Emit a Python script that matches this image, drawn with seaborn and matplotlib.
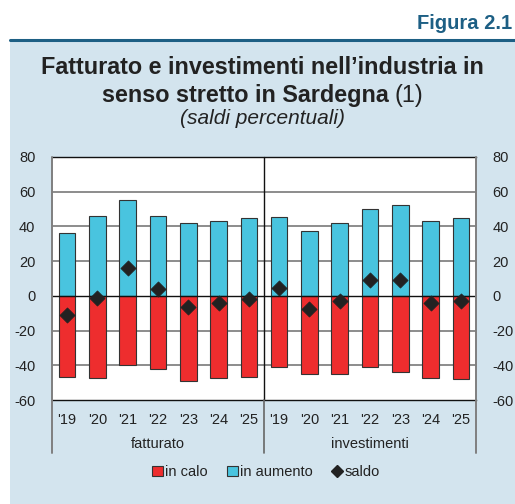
import matplotlib
matplotlib.use("Agg")
import matplotlib.pyplot as plt
import matplotlib.transforms as mtransforms
from matplotlib.patches import Rectangle
from matplotlib.lines import Line2D
import seaborn as sns
import pandas as pd

# ---- data ----
years = ["'19", "'20", "'21", "'22", "'23", "'24", "'25"]
groups = ["fatturato", "investimenti"]
fatt_aumento = [36, 46, 55, 46, 42, 43, 45]
fatt_calo = [-47, -47.5, -40, -42, -49, -47.5, -46.5]
fatt_saldo = [-11, -1.5, 16, 4, -6.7, -4.4, -1.7]
inv_aumento = [45.5, 37.5, 42, 50, 52.5, 43.2, 44.8]
inv_calo = [-41, -45, -44.8, -41, -43.6, -47.5, -48]
inv_saldo = [4.6, -7.7, -2.7, 9, 9, -4.4, -3]

sns.set_theme(style="white")
plt.rcParams["font.family"] = ["Liberation Sans", "DejaVu Sans"]
plt.rcParams["axes.unicode_minus"] = False

RED = "#ee2d2e"
BLUE = "#49c4df"
TXT = "#222222"
FS = 10.5

df = pd.DataFrame({
    "pos": list(range(14)),
    "aumento": fatt_aumento + inv_aumento,
    "calo": fatt_calo + inv_calo,
    "saldo": fatt_saldo + inv_saldo,
})

W, H = 515, 504
fig = plt.figure(figsize=(W / 100, H / 100), dpi=100)
fig.patch.set_facecolor("white")
fig.patches.append(Rectangle((10 / W, 0), 1 - 10 / W, (H - 40) / H,
                             transform=fig.transFigure, facecolor="#d3e4ee",
                             edgecolor="none", zorder=-10))
fig.lines.append(Line2D([10 / W, 1], [1 - 39.5 / H, 1 - 39.5 / H],
                        transform=fig.transFigure, color="#1d5f84", lw=2.2))

fig.text(512 / W, 1 - 29 / H, "Figura 2.1", ha="right", va="baseline",
         fontsize=14.5, fontweight="bold", color="#1d5f84")
fig.text(262.5 / W, 1 - 74 / H, "Fatturato e investimenti nell\u2019industria in",
         ha="center", va="baseline", fontsize=16.8, fontweight="bold", color=TXT)

# line 2: bold part + regular "(1)", centred together
y2 = 1 - 102 / H
tb = fig.text(0, y2, "senso stretto in Sardegna ", ha="left", va="baseline",
              fontsize=16.8, fontweight="bold", color=TXT)
t_reg = fig.text(0, y2, "(1)", ha="left", va="baseline", fontsize=16.8, color=TXT)
fig.canvas.draw()
bold_w = tb.get_window_extent().width
reg_w = t_reg.get_window_extent().width
x0 = 262.5 - (bold_w + reg_w) / 2
tb.set_x(x0 / W)
t_reg.set_x((x0 + bold_w) / W)

fig.text(262.5 / W, 1 - 124 / H, "(saldi percentuali)", ha="center", va="baseline",
         fontsize=15, fontstyle="italic", color=TXT)

ax = fig.add_axes([52 / W, 1 - 400 / H, (476 - 52) / W, (400 - 157) / H])
ax.set_facecolor("white")

sns.barplot(data=df, x="pos", y="aumento", color=BLUE, width=0.55,
            edgecolor="#333333", linewidth=0.8, saturation=1, ax=ax, zorder=3)
sns.barplot(data=df, x="pos", y="calo", color=RED, width=0.55,
            edgecolor="#333333", linewidth=0.8, saturation=1, ax=ax, zorder=3)
sns.scatterplot(data=df, x="pos", y="saldo", marker="D", color="#222222",
                s=60, edgecolor="#222222", linewidth=0.5, ax=ax, zorder=5,
                legend=False)

ax.set_xlim(-0.5, 13.5)
ax.set_ylim(-60, 80)
ax.set_yticks(range(-60, 81, 20))
for v in [-40, -20, 20, 40, 60]:
    ax.axhline(v, color="#8c8c8c", lw=1.4, zorder=1)
ax.axhline(0, color="#111111", lw=1.0, zorder=4)

ax.set_xticks(range(14))
ax.set_xticklabels(years + years)
ax.set_xlabel("")
ax.set_ylabel("")
ax.tick_params(axis="x", length=0, pad=9, labelsize=FS, labelcolor=TXT)
ax.tick_params(axis="y", length=0, pad=12, labelsize=FS, labelcolor=TXT,
               labelleft=True, labelright=True)

for side in ["top", "bottom"]:
    ax.spines[side].set_color("#111111")
    ax.spines[side].set_linewidth(1.0)
for side in ["left", "right"]:
    ax.spines[side].set_visible(False)

trans = mtransforms.blended_transform_factory(ax.transData, ax.transAxes)
for xv in (-0.5, 13.5):
    ax.plot([xv, xv], [1, -0.218], transform=trans, color="#7f7f7f", lw=1.4,
            clip_on=False, zorder=6)
ax.plot([6.5, 6.5], [1, 0], transform=trans, color="#111111", lw=1.0,
        clip_on=False, zorder=6)
ax.plot([6.5, 6.5], [0, -0.218], transform=trans, color="#666666", lw=1.2,
        clip_on=False, zorder=6)

ax.text(3, -0.18, groups[0], transform=trans, ha="center", va="center",
        fontsize=FS, color=TXT)
ax.text(10, -0.18, groups[1], transform=trans, ha="center", va="center",
        fontsize=FS, color=TXT)

handles = [
    Rectangle((0, 0), 1, 1, facecolor=RED, edgecolor="#333333", lw=0.8),
    Rectangle((0, 0), 1, 1, facecolor=BLUE, edgecolor="#333333", lw=0.8),
    Line2D([], [], marker="D", color="#222222", linestyle="none", markersize=6),
]
fig.legend(handles, ["in calo", "in aumento", "saldo"], loc="center",
           bbox_to_anchor=(266 / W, 1 - 472 / H), ncol=3, frameon=False,
           fontsize=FS, handlelength=0.75, handleheight=0.75, handletextpad=0.15,
           columnspacing=1.3, labelcolor=TXT)

fig.savefig("out.png", dpi=100, facecolor=fig.get_facecolor())
